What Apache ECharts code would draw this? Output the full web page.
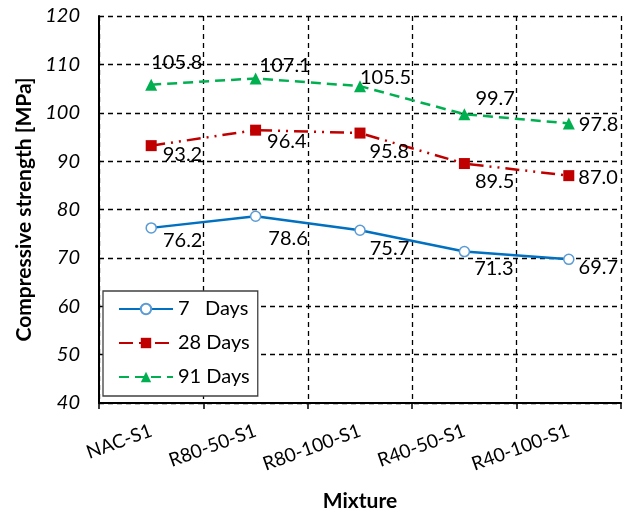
<!DOCTYPE html>
<html>
<head>
<meta charset="utf-8">
<script src="https://cdn.jsdelivr.net/npm/echarts@6/dist/echarts.min.js"></script>
<style>
  html, body { margin: 0; padding: 0; background: #fff; }
  #chart { width: 633px; height: 517px; }
</style>
</head>
<body>
<div id="chart"></div>
<script>
// Mixtures tested
const mixtures = ['NAC-S1', 'R80-50-S1', 'R80-100-S1', 'R40-50-S1', 'R40-100-S1'];

// Compressive strength [MPa] by curing age
const days7 = [76.2, 78.6, 75.7, 71.3, 69.7];
const days28 = [93.2, 96.4, 95.8, 89.5, 87.0];
const days91 = [105.8, 107.1, 105.5, 99.7, 97.8];

const seriesNames = ['7   Days', '28 Days', '91 Days'];

// Value label nudges (px) relative to the right side of each marker
const offsets7 = [[6, 13], [7, 22], [4, 18], [4, 17], [4, 8]];
const offsets28 = [[6, 9], [6, 11], [4, 18], [5, 18], [4, 2]];
const offsets91 = [[-6, -22], [-2, -13], [-6, -9], [5, -16], [4, 1]];

const FONT = 'Lato, "Open Sans", sans-serif';

function withLabels(values, offs) {
  return values.map((v, i) => ({
    value: v,
    label: {
      show: true,
      position: 'right',
      distance: 0,
      offset: offs[i],
      formatter: (p) => p.value.toFixed(1),
      color: '#000',
      fontSize: 20,
      fontFamily: FONT
    }
  }));
}

const chart = echarts.init(document.getElementById('chart'), null, { renderer: 'canvas' });

chart.setOption({
  animation: false,
  backgroundColor: '#fff',
  grid: { left: 99, right: 12, top: 16, bottom: 114, containLabel: false, outerBoundsMode: 'none' },
  xAxis: {
    type: 'category',
    data: mixtures,
    boundaryGap: true,
    name: 'Mixture',
    nameLocation: 'middle',
    nameGap: 88,
    nameTextStyle: { fontFamily: FONT, fontWeight: 'bold', fontSize: 21, color: '#000' },
    axisLine: { show: true, lineStyle: { color: '#000', width: 2 } },
    axisTick: { show: true, length: 6, lineStyle: { color: '#000', width: 1.5 } },
    axisLabel: {
      rotate: 20,
      margin: 27,
      interval: 0,
      fontFamily: FONT,
      fontSize: 19,
      color: '#000'
    },
    splitLine: { show: true, lineStyle: { color: '#000', type: [5, 4], width: 1.3 } }
  },
  yAxis: {
    type: 'value',
    min: 40,
    max: 120,
    interval: 10,
    name: 'Compressive strength [MPa]',
    nameLocation: 'middle',
    nameGap: 64,
    nameTextStyle: { fontFamily: FONT, fontWeight: 'bold', fontSize: 21, color: '#000' },
    axisLine: { show: true, lineStyle: { color: '#000', width: 2 } },
    axisTick: { show: false },
    axisLabel: {
      margin: 19,
      fontFamily: FONT,
      fontStyle: 'italic',
      fontSize: 20,
      color: '#000'
    },
    splitLine: { show: true, lineStyle: { color: '#000', type: [5, 4], width: 1.3 } }
  },
  legend: {
    orient: 'vertical',
    left: 103,
    top: 291,
    padding: [8, 8, 9, 15],
    itemGap: 14,
    itemWidth: 54,
    itemHeight: 13,
    backgroundColor: '#fff',
    borderColor: '#404040',
    borderWidth: 1.3,
    borderRadius: 0,
    textStyle: { fontFamily: FONT, fontSize: 20, color: '#000', lineHeight: 20 },
    data: seriesNames
  },
  series: [
    {
      name: seriesNames[0],
      type: 'line',
      data: withLabels(days7, offsets7),
      symbol: 'circle',
      symbolSize: 10,
      lineStyle: { color: '#0070C0', width: 2.5 },
      itemStyle: { color: '#fff', borderColor: '#5B9BD5', borderWidth: 1.5 },
      z: 3
    },
    {
      name: seriesNames[1],
      type: 'line',
      data: withLabels(days28, offsets28),
      symbol: 'rect',
      symbolSize: 11,
      lineStyle: { color: '#C00000', width: 2.5, type: [14, 6, 2, 6, 2, 6] },
      itemStyle: { color: '#C00000' },
      z: 3
    },
    {
      name: seriesNames[2],
      type: 'line',
      data: withLabels(days91, offsets91),
      symbol: 'triangle',
      symbolSize: 12,
      lineStyle: { color: '#00B050', width: 2.5, type: [10, 6] },
      itemStyle: { color: '#00B050' },
      z: 3
    }
  ]
});
</script>
</body>
</html>
